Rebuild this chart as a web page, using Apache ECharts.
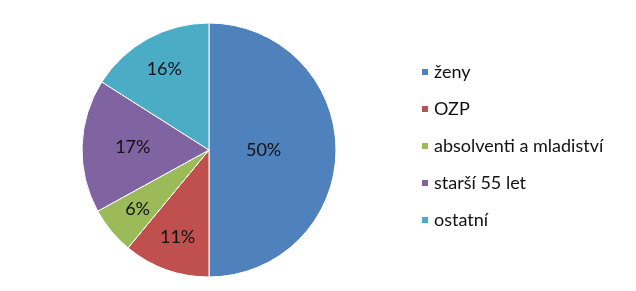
<!DOCTYPE html>
<html><head><meta charset="utf-8">
<script src="https://cdn.jsdelivr.net/npm/echarts@6/dist/echarts.min.js"></script>
<style>html,body{margin:0;padding:0;background:#fff}#c{width:636px;height:291px}</style>
</head><body><div id="c"></div>
<script>
const categories = ['ženy', 'OZP', 'absolventi a mladiství', 'starší 55 let', 'ostatní'];
const values = [50, 11, 6, 17, 16];
const colors = ['#4F81BD', '#C0504D', '#9BBB59', '#8064A2', '#4BACC6'];

const cx = 209, cy = 150, R = 127;
const total = values.reduce((a, b) => a + b, 0);
const mids = [];
let cum = 0;
values.forEach(v => { mids.push((cum + v / 2) / total); cum += v; });

const chart = echarts.init(document.getElementById('c'), null, {renderer: 'canvas'});
chart.setOption({
  animation: false,
  color: colors,
  legend: {
    orient: 'vertical', left: 415, top: 58,
    itemWidth: 8, itemHeight: 8, itemGap: 19,
    icon: 'rect',
    textStyle: {fontFamily: 'Lato', fontSize: 18, color: '#111', lineHeight: 18, padding: [0, 0, 0, 0]},
    data: categories
  },
  series: [{
    type: 'pie',
    center: [cx, cy], radius: R,
    startAngle: 90, clockwise: true,
    itemStyle: {borderColor: '#fff', borderWidth: 1},
    label: {position: 'inside', formatter: '{d}%', fontFamily: 'Lato', fontSize: 18, color: '#111'},
    labelLine: {show: false},
    labelLayout: function (p) {
      const i = p.dataIndex;
      const frac = values[i] / total;
      const f = frac >= 0.4 ? 0.43 : (frac > 0.165 ? 0.6 : 0.73);
      const th = (90 - mids[i] * 360) * Math.PI / 180;
      return {x: cx + R * f * Math.cos(th), y: cy - R * f * Math.sin(th), align: 'center', verticalAlign: 'middle'};
    },
    emphasis: {disabled: true},
    data: categories.map((n, i) => ({name: n, value: values[i]}))
  }]
});
</script></body></html>
